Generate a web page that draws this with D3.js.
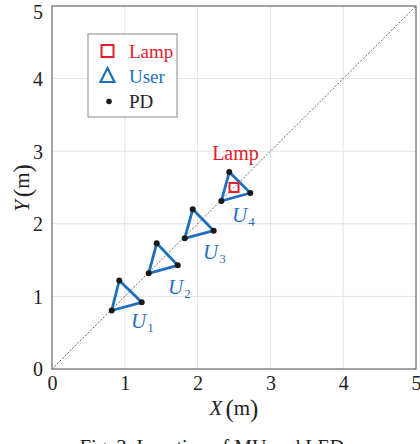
<!DOCTYPE html>
<html><head><meta charset="utf-8">
<script src="https://cdn.jsdelivr.net/npm/d3@7"></script>
<style>body{margin:0;background:#fff;}svg{display:block;}svg text{font-family:"Liberation Serif","Times New Roman",serif;}</style>
</head><body>
<svg id="c" width="420" height="444"></svg>
<script>
const xTicks = [0,1,2,3,4,5];
const yTicks = [0,1,2,3,4,5];
const userNames = ["1","2","3","4"];
const u1 = [[0.82,0.806],[0.924,1.219],[1.232,0.919]];
const u2 = [[1.328,1.318],[1.438,1.731],[1.727,1.428]];
const u3 = [[1.823,1.800],[1.933,2.200],[2.221,1.905]];
const u4 = [[2.326,2.314],[2.435,2.713],[2.724,2.424]];
const users = [u1,u2,u3,u4];
const labelX = [1.085,1.593,2.074,2.473];
const labelY = [0.565,1.033,1.515,2.025];
const lamp = [2.5,2.5];
const lampLabel = [2.2,2.88];

const svg = d3.select("#c");
const font = '"Liberation Serif","Times New Roman",serif';
const blue = "#1f6fc0", red = "#e3202a";
const x = d3.scaleLinear().domain([0,5]).range([52,416]);
const y = d3.scaleLinear().domain([0,5]).range([369,6]);

// grid
svg.append("g").selectAll("line").data(xTicks.slice(1,-1)).join("line")
  .attr("x1",d=>x(d)).attr("x2",d=>x(d)).attr("y1",y(0)).attr("y2",y(5))
  .attr("stroke","#e3e3e3").attr("stroke-width",1);
svg.append("g").selectAll("line").data(yTicks.slice(1,-1)).join("line")
  .attr("y1",d=>y(d)).attr("y2",d=>y(d)).attr("x1",x(0)).attr("x2",x(5))
  .attr("stroke","#e3e3e3").attr("stroke-width",1);

// diagonal
svg.append("line").attr("x1",x(0)).attr("y1",y(0)).attr("x2",x(5)).attr("y2",y(5))
  .attr("stroke","#555").attr("stroke-width",0.9).attr("stroke-dasharray","2,1.6");

// frame
svg.append("rect").attr("x",x(0)).attr("y",y(5)).attr("width",x(5)-x(0)).attr("height",y(0)-y(5))
  .attr("fill","none").attr("stroke","#666").attr("stroke-width",1.2);

// axes tick labels
const xa = d3.axisBottom(x).tickValues(xTicks).tickSize(0).tickPadding(0).tickFormat(d3.format("d"));
const gx = svg.append("g").attr("transform",`translate(0,${y(0)})`).call(xa);
gx.attr("font-family",null).attr("font-size",null);
gx.select(".domain").remove();
gx.selectAll("text").style("font-family",font).style("font-size","20px").attr("fill","#222")
  .attr("y",21).attr("dy",0);
const ya = d3.axisLeft(y).tickValues(yTicks).tickSize(0).tickPadding(9).tickFormat(d3.format("d"));
const gy = svg.append("g").attr("transform",`translate(${x(0)},0)`).call(ya);
gy.attr("font-family",null).attr("font-size",null);
gy.select(".domain").remove();
gy.selectAll("text").style("font-family",font).style("font-size","20px").attr("fill","#222")
  .attr("dy",d=>d===5?"0.62em":"0.34em");

// axis titles
const xt = svg.append("text").attr("x",234).attr("y",415).attr("text-anchor","middle")
  .style("font-family",font).style("font-size","21px").attr("fill","#222");
xt.append("tspan").attr("font-style","italic").text("X");
xt.append("tspan").style("font-size","25px").attr("dx",3).attr("dy",2).text("(");
xt.append("tspan").style("font-size","21px").attr("dy",-2).text("m");
xt.append("tspan").style("font-size","25px").attr("dy",2).text(")");

const yt = svg.append("text").attr("transform",`translate(29,188) rotate(-90)`).attr("text-anchor","middle")
  .style("font-family",font).style("font-size","21px").attr("fill","#222");
yt.append("tspan").attr("font-style","italic").text("Y");
yt.append("tspan").style("font-size","25px").attr("dx",3).attr("dy",2).text("(");
yt.append("tspan").style("font-size","21px").attr("dy",-2).text("m");
yt.append("tspan").style("font-size","25px").attr("dy",2).text(")");

// triangles
const line = d3.line().x(d=>x(d[0])).y(d=>y(d[1])).curve(d3.curveLinearClosed);
svg.append("g").selectAll("path").data(users).join("path")
  .attr("d",line).attr("fill","none").attr("stroke",blue).attr("stroke-width",2.8).attr("stroke-linejoin","round");
svg.append("g").selectAll("circle").data(users.flat()).join("circle")
  .attr("cx",d=>x(d[0])).attr("cy",d=>y(d[1])).attr("r",3).attr("fill","#1a1a1a");

// lamp
svg.append("rect").attr("x",x(lamp[0])-4.5).attr("y",y(lamp[1])-4.5).attr("width",9).attr("height",9)
  .attr("fill","none").attr("stroke",red).attr("stroke-width",2);
svg.append("text").attr("x",x(lampLabel[0])).attr("y",y(lampLabel[1]))
  .style("font-family",font).style("font-size","20px").attr("fill",red).text("Lamp");

// user labels
userNames.forEach((n,i)=>{
  const t = svg.append("text").attr("x",x(labelX[i])).attr("y",y(labelY[i]))
    .style("font-family",font).style("font-size","21px").attr("fill",blue);
  t.append("tspan").attr("font-style","italic").text("U");
  t.append("tspan").style("font-size","13px").attr("dx",1).attr("dy",4).text(n);
});

// legend
const lg = svg.append("g");
lg.append("rect").attr("x",88).attr("y",34).attr("width",89).attr("height",83)
  .attr("fill","#fff").attr("stroke","#888").attr("stroke-width",1);
lg.append("rect").attr("x",101.5).attr("y",45).attr("width",12).attr("height",12)
  .attr("fill","none").attr("stroke",red).attr("stroke-width",2);
lg.append("path").attr("d","M107.5,68 L100.5,82 L114.5,82 Z")
  .attr("fill","none").attr("stroke",blue).attr("stroke-width",2.2).attr("stroke-linejoin","miter");
lg.append("circle").attr("cx",109).attr("cy",101.5).attr("r",2.8).attr("fill","#1a1a1a");
[["Lamp",red,58],["User",blue,83],["PD","#222",108]].forEach(([t,c,yy])=>{
  lg.append("text").attr("x",129).attr("y",yy).style("font-family",font).style("font-size","19px").attr("fill",c).text(t);
});

// caption (cut off at the bottom edge, as in the reference)
svg.append("text").attr("x",212).attr("y",454).attr("text-anchor","middle")
  .style("font-family",font).style("font-size","20px").attr("fill","#222").text("Fig. 3. Location of MU and LED");
</script>
</body></html>
